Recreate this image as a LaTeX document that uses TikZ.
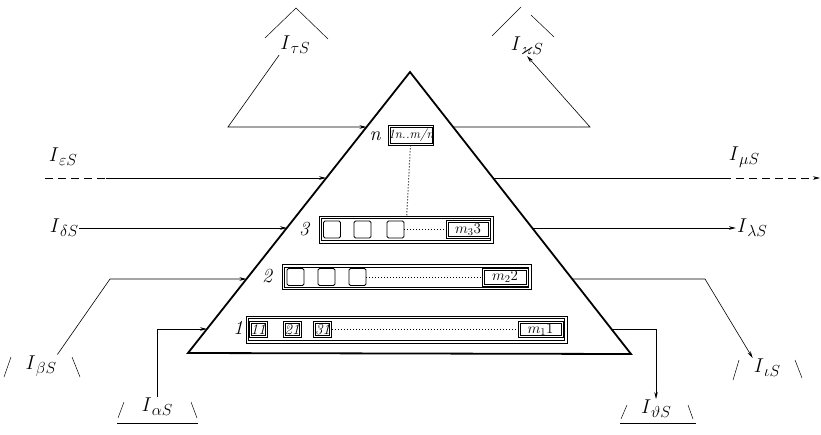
\RequirePackage{fix-cm}
\documentclass[tikz,border=0pt]{standalone}
\usepackage{amssymb}
\usetikzlibrary{arrows.meta}

\newcommand{\Iflux}[1]{$I$\raisebox{-4pt}{\fontsize{16}{17}\selectfont$#1S$}}

\tikzset{
  flux/.style={line width=0.6pt,-{Stealth[length=7pt,width=3.5pt]}},
  fluxline/.style={line width=0.6pt},
  bracket/.style={line width=0.5pt},
  lab/.style={font=\fontsize{20}{24}\selectfont,inner sep=1pt},
  levnum/.style={font=\fontsize{20}{22}\selectfont\itshape,inner sep=1pt},
  inner frame/.style={path picture={
    \draw[line width=0.6pt]
    ([shift={(#1,-#1)}]path picture bounding box.north west)
    rectangle
    ([shift={(-#1,#1)}]path picture bounding box.south east);}},
  levbox/.style={draw,line width=0.9pt,inner sep=0pt,inner frame=2.4pt},
  cellbox/.style={draw,line width=0.7pt,inner sep=0pt,inner frame=1.8pt,
    font=\fontsize{15}{16}\selectfont\itshape},
  sqbox/.style={draw,line width=0.9pt,rounded corners=1.5pt,minimum size=17pt,inner sep=0pt}
}

\begin{document}
\begin{tikzpicture}[x=1pt,y=-1pt]

\useasboundingbox (0,0) rectangle (821,434);

% pyramide
\coordinate (apex) at (410,72);
\coordinate (bl) at (188,353);
\coordinate (br) at (631,354);

\draw[line width=1.8pt,line join=miter]
(bl)
--
(apex)
--
(br)
--
cycle;

% niveaux
\node[levnum]
(nn)
at (375,136)
{n};

\node[cellbox,minimum width=44pt,minimum height=20pt,font=\fontsize{13}{14}\selectfont\itshape]
(Bn)
at (411,135)
{1n..m/n};

\node[levnum]
(n3)
at (304,229)
{3};

\node[levbox,minimum width=174pt,minimum height=27pt]
(L3)
at (406,229.5)
{};

\node[sqbox]
(s31)
at (332,229.5)
{};

\node[sqbox]
(s32)
at (362.5,229.5)
{};

\node[sqbox]
(s33)
at (395.5,229.5)
{};

\node[cellbox,minimum width=44pt,minimum height=18pt]
(m3)
at (468,229.5)
{$m_3 3$};

\node[levnum]
(n2)
at (267,276)
{2};

\node[levbox,minimum width=249pt,minimum height=25pt]
(L2)
at (406.5,277)
{};

\node[sqbox]
(s21)
at (295.5,277)
{};

\node[sqbox]
(s22)
at (326.5,277)
{};

\node[sqbox]
(s23)
at (357.5,277)
{};

\node[cellbox,minimum width=46pt,minimum height=18pt]
(m2)
at (505,277)
{$m_2 2$};

\node[levnum]
(n1)
at (238,328)
{1};

\node[levbox,minimum width=321pt,minimum height=27pt]
(L1)
at (406.5,329.5)
{};

\node[cellbox,minimum width=18pt,minimum height=16pt]
(c11)
at (258,329.5)
{11};

\node[cellbox,minimum width=18pt,minimum height=16pt]
(c21)
at (292,329.5)
{21};

\node[cellbox,minimum width=18pt,minimum height=16pt]
(c31)
at (322.5,329.5)
{31};

\node[cellbox,minimum width=45pt,minimum height=16pt]
(m1)
at (540.5,329.5)
{$m_1 1$};

\draw[dotted,line width=1pt]
(Bn)
--
(L3);

\draw[dotted,line width=1pt]
(s33)
--
(m3);

\draw[dotted,line width=1pt]
(s23)
--
(m2);

\draw[dotted,line width=1pt]
(c31)
--
(m1);

% points sur les bords
\coordinate (eTl) at (366.5,127);
\coordinate (eTr) at (453,127);
\coordinate (eEl) at (326,178);
\coordinate (eEr) at (493,178);
\coordinate (eDl) at (287,228);
\coordinate (eDr) at (532,228);
\coordinate (eBl) at (246.5,279);
\coordinate (eBr) at (572,279);
\coordinate (eAl) at (207,329);
\coordinate (eAr) at (611,329);

% flux
\node[lab]
(It)
at (295,45)
{\Iflux{\tau}};

\node[lab]
(Ik)
at (527,46)
{\Iflux{\varkappa}};

\node[lab]
(Ie)
at (63,157)
{\Iflux{\varepsilon}};

\node[lab]
(Im)
at (744,157)
{\Iflux{\mu}};

\node[lab]
(Id)
at (64,228)
{\Iflux{\delta}};

\node[lab]
(Il)
at (752,228)
{\Iflux{\lambda}};

\node[lab]
(Ib)
at (41,366)
{\Iflux{\beta}};

\node[lab]
(Ii)
at (767,368)
{\Iflux{\iota}};

\node[lab]
(Ia)
at (157,407)
{\Iflux{\alpha}};

\node[lab]
(Iv)
at (656,409)
{\Iflux{\vartheta}};

\coordinate (tK) at (228,127);
\coordinate (kK) at (590,127);
\coordinate (eS) at (45,178);
\coordinate (eM) at (106,178);
\coordinate (mM) at (723,178);
\coordinate (mE) at (820,178);
\coordinate (bK) at (110,279);
\coordinate (iK) at (705,279);

\draw[flux]
(It.south west)
--
(tK)
--
(eTl);

\draw[flux]
(eTr)
--
(kK)
--
(Ik.south);

\draw[fluxline,dash pattern=on 8pt off 5pt]
(eS)
--
(eM);

\draw[flux]
(eM)
--
(eEl);

\draw[fluxline]
(eEr)
--
(mM);

\draw[flux,dash pattern=on 8pt off 5pt]
(mM)
--
(mE);

\draw[flux]
(Id)
--
(eDl);

\draw[flux]
(eDr)
--
(Il);

\draw[flux]
(Ib.north east)
--
(bK)
--
(eBl);

\draw[flux]
(eBr)
--
(iK)
--
(Ii.north west);

\draw[flux]
(Ia.north)
|-
(eAl);

\draw[flux]
(eAr)
-|
(Iv.north);

% toits et crochets
\draw[bracket] (265,38) -- (296,8) -- (328,39);
\draw[bracket] (492,36) -- (521,7);
\draw[bracket] (531,15) -- (554,37);
\draw[bracket] (4,377) -- (11,357);
\draw[bracket] (72,357) -- (80,377);
\draw[bracket] (733,380) -- (739,360);
\draw[bracket] (795,360) -- (802,378);
\draw[bracket] (118,418) -- (124,402);
\draw[bracket] (191,402) -- (197,418);
\draw[bracket] (117,423) -- (198,423);
\draw[bracket] (621,419) -- (627,405);
\draw[bracket] (688,405) -- (693,419);
\draw[bracket] (620,423) -- (696,423);

\end{tikzpicture}
\end{document}
